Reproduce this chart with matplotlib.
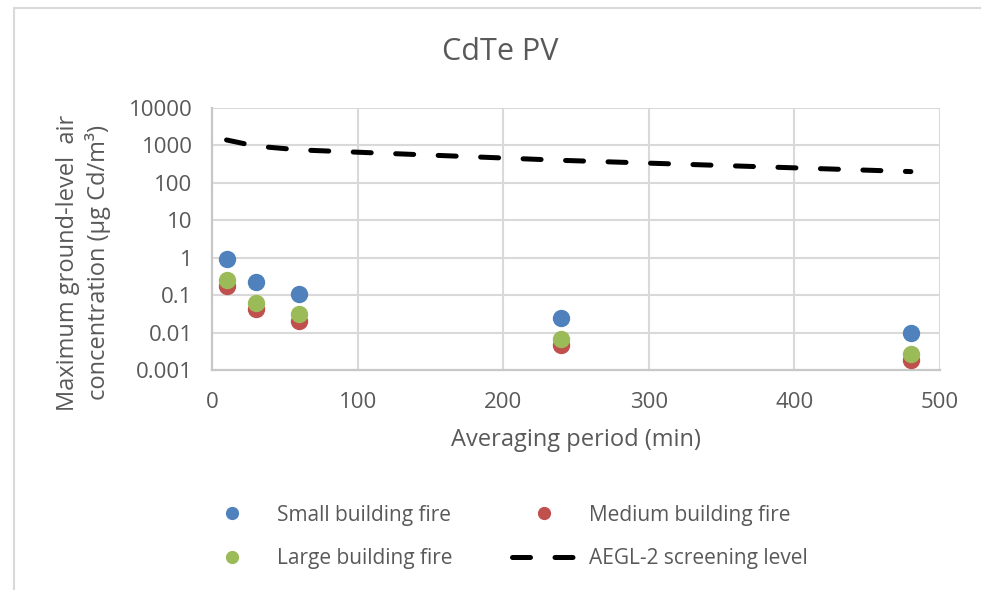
import matplotlib
matplotlib.use("Agg")
import matplotlib.pyplot as plt
from matplotlib.lines import Line2D
from matplotlib.patches import Rectangle
from matplotlib.ticker import FixedLocator, FuncFormatter

plt.rcParams['font.family'] = ['Open Sans', 'DejaVu Sans']

# ---- data ----
periods = [10, 30, 60, 240, 480]
small_fire = [0.95, 0.23, 0.11, 0.025, 0.0098]
medium_fire = [0.18, 0.043, 0.021, 0.0048, 0.0019]
large_fire = [0.26, 0.063, 0.031, 0.0068, 0.0027]
aegl2 = [1400, 960, 760, 400, 200]
y_ticks = [0.001, 0.01, 0.1, 1, 10, 100, 1000, 10000]
x_ticks = [0, 100, 200, 300, 400, 500]

TXT = '#595959'
GRID = '#d9d9d9'
C_SMALL = '#4F81BD'
C_MED = '#C0504D'
C_LARGE = '#9BBB59'
DASH = (3.6, 4.9)

fig = plt.figure(figsize=(9.81, 5.90), dpi=100)
fig.patch.set_facecolor('white')

# chart-area border
fig.patches.append(Rectangle((13.5 / 981, -0.05), 1.2, 1 - 7.5 / 590 + 0.05,
                             transform=fig.transFigure, fill=False,
                             edgecolor='#d9d9d9', linewidth=1.5))

ax = fig.add_axes([212 / 981, 1 - 370 / 590, (940 - 212) / 981, (370 - 108) / 590])
ax.set_yscale('log')
ax.set_xlim(0, 500)
ax.set_ylim(0.001, 10000)

ax.yaxis.set_major_locator(FixedLocator(y_ticks))
ax.yaxis.set_minor_locator(FixedLocator([]))
ax.yaxis.set_major_formatter(FuncFormatter(lambda v, p: '{:g}'.format(v) if v < 1e4 else '10000'))
ax.xaxis.set_major_locator(FixedLocator(x_ticks))

ax.grid(True, color=GRID, linewidth=1.5)
ax.set_axisbelow(True)
for s in ['top', 'right']:
    ax.spines[s].set_visible(False)
for s in ['left', 'bottom']:
    ax.spines[s].set_color('#c8c8c8')
    ax.spines[s].set_linewidth(1.6)
ax.tick_params(length=0, labelsize=16, labelcolor=TXT)
ax.tick_params(axis='y', pad=14)
ax.tick_params(axis='x', pad=15.5)

ms = 11.5
ax.plot(periods, small_fire, 'o', color=C_SMALL, markersize=ms, zorder=3)
ax.plot(periods, medium_fire, 'o', color=C_MED, markersize=ms, zorder=3)
ax.plot(periods, large_fire, 'o', color=C_LARGE, markersize=ms, zorder=4)
ax.plot(periods, aegl2, color='black', linewidth=3.6, dashes=DASH,
        dash_capstyle='round', zorder=5)

fig.text(500 / 981, 1 - 52 / 590, 'CdTe PV', fontsize=22, color=TXT,
         ha='center', va='center')
ax.set_xlabel('Averaging period (min)', fontsize=17, color=TXT, va='center')
ax.xaxis.set_label_coords(0.5, (370 - 440) / 262)
ax.set_ylabel('Maximum ground-level  air\nconcentration (µg Cd/m³)', fontsize=17,
              color=TXT, linespacing=1.25, va='center')
ax.yaxis.set_label_coords((84 - 212) / 728, (370 - 263) / 262)

handles = [
    Line2D([], [], marker='o', linestyle='none', color=C_SMALL, markersize=8.5),
    Line2D([], [], marker='o', linestyle='none', color=C_LARGE, markersize=8.5),
    Line2D([], [], marker='o', linestyle='none', color=C_MED, markersize=8.5),
    Line2D([], [], color='black', linewidth=3.6, dashes=DASH, dash_capstyle='round'),
]
labels = ['Small building fire', 'Large building fire',
          'Medium building fire', 'AEGL-2 screening level']
leg = fig.legend(handles, labels, ncol=2, loc='center left',
                 bbox_to_anchor=(181 / 981, 1 - 537 / 590), frameon=False,
                 fontsize=15, labelcolor=TXT, handlelength=3.1,
                 columnspacing=2.85, labelspacing=1.1, handletextpad=0.6,
                 borderpad=0.4)

fig.savefig('out.png', dpi=100)
